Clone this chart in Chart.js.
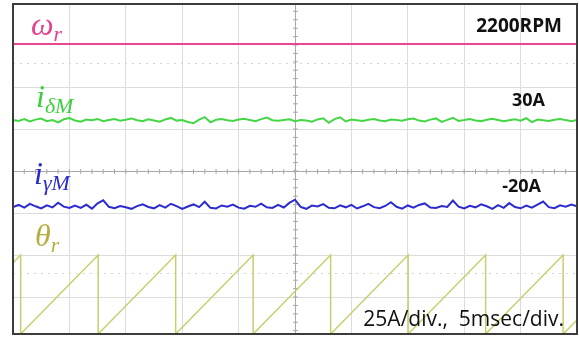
<!DOCTYPE html>
<html>
<head>
<meta charset="utf-8">
<script src="https://cdn.jsdelivr.net/npm/chart.js"></script>
<style>
  html, body { margin: 0; padding: 0; background: #fff; }
  #wrap { width: 579px; height: 338px; }
</style>
</head>
<body>
<div id="wrap"><canvas id="scope"></canvas></div>
<script>
// time base: 10 divisions x 5 ms
const timeMs = [];
for (let i = 0; i <= 100; i++) timeMs.push(i * 0.5);

// rotor speed, RPM
const speedTime = [0, 50];
const speedRpm = [2200, 2200];

// delta-axis current, A (sampled every 0.5 ms)
const iDelta = [30.4, 29.8, 30.9, 29.5, 30.6, 31.2, 29.7, 30.3, 28.9, 30.8, 31.5, 30.1, 29.4, 30.6, 30.2, 31.0, 29.6, 30.4, 30.9, 29.9,
  30.5, 31.3, 30.2, 29.6, 30.8, 30.1, 29.3, 30.7, 31.6, 30.0, 30.4, 29.2, 28.4, 30.6, 32.1, 29.0, 30.5, 30.9, 30.2, 29.8,
  30.6, 31.1, 30.3, 29.7, 30.9, 31.8, 30.2, 29.9, 30.4, 30.8, 29.6, 30.3, 30.1, 29.4, 30.7, 31.4, 28.7, 30.9, 32.0, 29.5,
  30.6, 30.2, 29.8, 30.5, 31.0, 30.1, 29.6, 30.7, 30.3, 29.9, 30.8, 31.2, 30.0, 29.5, 30.6, 31.3, 29.2, 30.4, 31.7, 29.8,
  30.3, 30.9, 30.1, 29.7, 30.5, 31.1, 30.4, 29.6, 30.2, 30.8, 29.9, 31.4, 29.1, 30.6, 30.2, 29.8, 30.5, 31.0, 30.3, 29.7, 30.4];

// gamma-axis current, A (sampled every 0.5 ms)
const iGamma = [-21.5, -20.2, -21.8, -19.6, -21.0, -22.3, -20.4, -21.7, -18.9, -21.2, -22.0, -20.6, -21.9, -20.1, -22.4, -19.2, -17.4, -21.3, -22.1, -20.8,
  -21.6, -22.5, -20.9, -19.8, -21.4, -22.2, -20.3, -21.8, -19.5, -20.9, -22.6, -21.1, -19.9, -21.5, -18.3, -21.9, -22.3, -20.5, -21.2, -20.0,
  -21.8, -22.4, -20.7, -21.3, -19.4, -21.6, -22.0, -20.2, -21.7, -19.0, -17.1, -21.4, -22.5, -20.6, -21.1, -19.7, -21.9, -22.2, -20.4, -21.6,
  -20.1, -22.3, -21.0, -19.6, -21.5, -22.1, -20.8, -18.6, -21.3, -22.4, -20.5, -21.8, -20.2, -19.3, -21.7, -22.0, -20.9, -21.4, -17.6, -21.2,
  -22.3, -20.7, -21.6, -19.8, -21.0, -22.5, -20.3, -21.9, -19.1, -21.4, -22.2, -20.6, -21.8, -20.0, -18.2, -21.5, -22.1, -20.4, -21.2, -19.9, -21.0];

// rotor angle, degrees (sawtooth corners)
const thetaTime = [0, 0.68, 0.68, 7.55, 7.55, 14.42, 14.42, 21.29, 21.29, 28.16, 28.16, 35.03, 35.03, 41.9, 41.9, 48.77, 48.77, 50];
const thetaDeg = [324, 360, 0, 360, 0, 360, 0, 360, 0, 360, 0, 360, 0, 360, 0, 360, 0, 64];

// value labels on the right side
const levelLabels = ['2200RPM', '30A', '-20A'];
const scaleNote = '25A/div.,  5msec/div.';

function pts(xs, ys) {
  return xs.map((x, i) => ({ x: x, y: ys[i] }));
}

const scopeDecor = {
  id: 'scopeDecor',
  beforeDatasetsDraw(chart) {
    const { ctx, chartArea: a } = chart;
    const y = chart.scales.y;
    const x = chart.scales.x;
    ctx.save();
    // dotted guide lines
    ctx.strokeStyle = '#d4d4d4';
    ctx.lineWidth = 1;
    ctx.setLineDash([2, 5]);
    [63, 273].forEach(py => {
      ctx.beginPath();
      ctx.moveTo(a.left, py + 0.5);
      ctx.lineTo(a.right, py + 0.5);
      ctx.stroke();
    });
    ctx.setLineDash([]);
    // centre crosshair with minor ticks
    const cx = Math.round(x.getPixelForValue(25)) + 0.5;
    const cy = Math.round(y.getPixelForValue(0)) + 0.5;
    ctx.strokeStyle = '#a8a8a8';
    ctx.beginPath();
    ctx.moveTo(cx, a.top); ctx.lineTo(cx, a.bottom);
    ctx.moveTo(a.left, cy); ctx.lineTo(a.right, cy);
    for (let t = 0; t <= 50; t += 1) {
      const px = x.getPixelForValue(t);
      ctx.moveTo(px, cy - 2.5); ctx.lineTo(px, cy + 2.5);
    }
    for (let v = -95; v <= 95; v += 5) {
      const py = y.getPixelForValue(v);
      ctx.moveTo(cx - 2.5, py); ctx.lineTo(cx + 2.5, py);
    }
    ctx.stroke();
    ctx.restore();
  },
  afterDraw(chart) {
    const { ctx, chartArea: a } = chart;
    ctx.save();
    // frame
    ctx.strokeStyle = '#3c3c3c';
    ctx.lineWidth = 2;
    ctx.strokeRect(a.left, a.top, a.right - a.left, a.bottom - a.top);

    // trace names
    function sym(main, sub, px, py, color) {
      ctx.fillStyle = color;
      ctx.font = 'italic 32px "Liberation Serif", "DejaVu Serif", serif';
      ctx.fillText(main, px, py);
      const w = ctx.measureText(main).width;
      ctx.font = 'italic 22px "Liberation Serif", "DejaVu Serif", serif';
      ctx.fillText(sub, px + w, py + 6);
    }
    ctx.textBaseline = 'alphabetic';
    ctx.textAlign = 'left';
    sym('\u03c9', 'r', 31, 35, '#e6428c');
    sym('i', '\u03b4M', 36, 107, '#3ccf3c');
    sym('i', '\u03b3M', 34, 184, '#2a2ac8');
    sym('\u03b8', 'r', 35, 246, '#b4ae3e');

    // level readouts
    ctx.fillStyle = '#111';
    ctx.textAlign = 'right';
    ctx.font = 'bold 19px "Open Sans", "Noto Sans", sans-serif';
    ctx.fillText(levelLabels[0], 562, 32);
    ctx.font = 'bold 18px "Open Sans", "Noto Sans", sans-serif';
    ctx.fillText(levelLabels[1], 545, 106);
    ctx.fillText(levelLabels[2], 541, 192);
    ctx.font = '21px "Open Sans", "Noto Sans", sans-serif';
    ctx.fillText(scaleNote, 564, 326);
    ctx.restore();
  }
};

new Chart(document.getElementById('scope'), {
  type: 'line',
  data: {
    datasets: [
      { data: pts(speedTime, speedRpm), yAxisID: 'ySpeed', borderColor: '#e8468f', borderWidth: 2 },
      { data: pts(timeMs, iDelta), yAxisID: 'y', borderColor: '#45d645', borderWidth: 2 },
      { data: pts(timeMs, iGamma), yAxisID: 'y', borderColor: '#2b2bd0', borderWidth: 2 },
      { data: pts(thetaTime, thetaDeg), yAxisID: 'yTheta', borderColor: '#c9ce6c', borderWidth: 1.5 }
    ]
  },
  options: {
    responsive: true,
    maintainAspectRatio: false,
    animation: false,
    layout: { padding: { left: 13, right: 2, top: 4, bottom: 4 } },
    elements: { point: { radius: 0 }, line: { tension: 0 } },
    plugins: { legend: { display: false }, tooltip: { enabled: false } },
    scales: {
      x: {
        type: 'linear', min: 0, max: 50,
        ticks: { display: false, stepSize: 5 },
        grid: { color: '#dcdcdc', drawTicks: false },
        border: { display: false }
      },
      y: {
        type: 'linear', min: -97, max: 99.4,
        afterBuildTicks: s => { s.ticks = [-75, -50, -25, 0, 25, 50, 75].map(v => ({ value: v })); },
        ticks: { display: false },
        grid: { color: '#dcdcdc', drawTicks: false },
        border: { display: false }
      },
      ySpeed: { type: 'linear', min: 0, max: 2503, display: false },
      yTheta: { type: 'linear', min: 0, max: 1504, display: false }
    }
  },
  plugins: [scopeDecor]
});
</script>
</body>
</html>
